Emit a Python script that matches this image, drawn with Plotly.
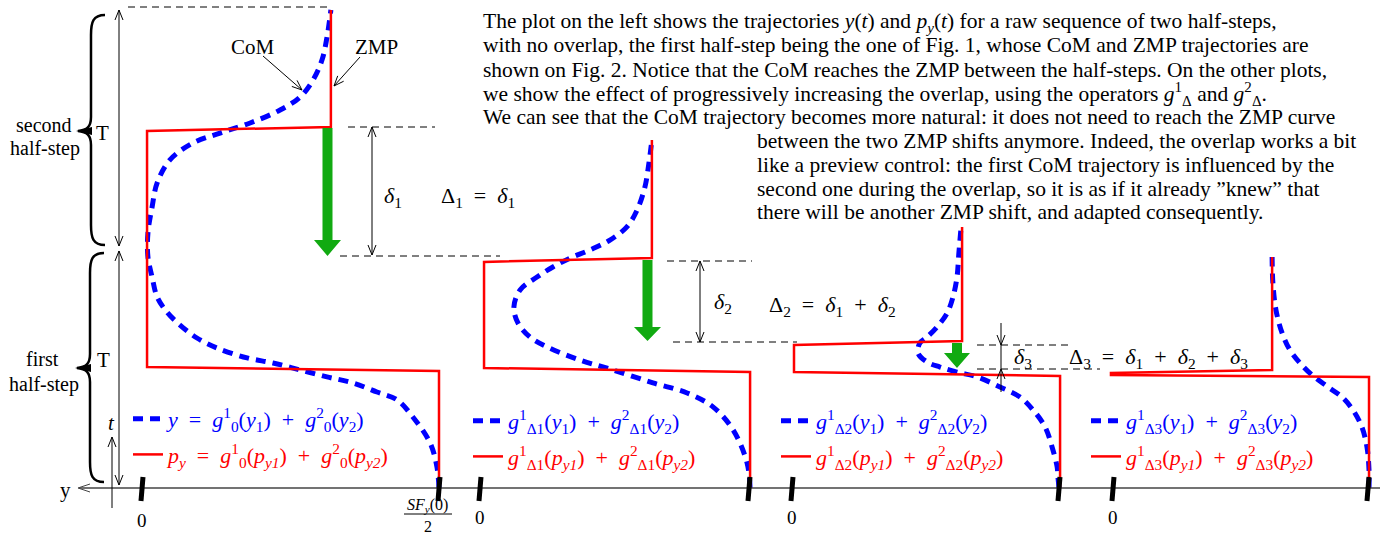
import plotly.graph_objects as go

W, H = 1395, 538
SERIF = "Liberation Serif, Times New Roman, serif"
BLUE = "#0000ff"
RED = "#ff0000"
GREEN = "#11aa11"
SP = "\u2002"  # wider space around math operators

# u: horizontal position (0 = left tick, 1 = SF_y(0)/2 tick), t: time in units of T
# panel 1: raw sequence, no overlap
zmp1_u = [1.0, 1.0, 0.017, 0.017, 0.636, 0.636]
zmp1_t = [0.0, 0.488, 0.504, 1.488, 1.504, 1.992]
com1_u = [1.0, 0.993, 0.970, 0.912, 0.859, 0.791, 0.710, 0.623, 0.532, 0.441, 0.354, 0.253, 0.185, 0.128,
          0.084, 0.051, 0.034, 0.020, 0.020, 0.034, 0.051, 0.094, 0.172, 0.263, 0.364, 0.465, 0.532, 0.576,
          0.606, 0.623, 0.636]
com1_t = [0.0, 0.088, 0.188, 0.296, 0.367, 0.400, 0.438, 0.463, 0.492, 0.521, 0.542, 0.583, 0.625, 0.679,
          0.733, 0.796, 0.879, 0.963, 1.063, 1.171, 1.271, 1.367, 1.438, 1.479, 1.521, 1.575, 1.629, 1.700,
          1.783, 1.879, 1.992]

# panel 2: overlap Delta_1
zmp2_u = [1.004, 1.004, 0.015, 0.015, 0.639, 0.639]
zmp2_t = [0.0, 0.483, 0.500, 0.942, 0.958, 1.450]
com2_u = [1.004, 0.993, 0.941, 0.866, 0.770, 0.643, 0.494, 0.372, 0.249, 0.186, 0.141, 0.126, 0.149, 0.212,
          0.271, 0.335, 0.409, 0.483, 0.546, 0.584, 0.613, 0.628, 0.639]
com2_t = [0.0, 0.104, 0.242, 0.338, 0.396, 0.438, 0.492, 0.533, 0.588, 0.629, 0.688, 0.754, 0.825, 0.879,
          0.921, 0.958, 0.992, 1.033, 1.088, 1.158, 1.254, 1.354, 1.450]

# panel 3: overlap Delta_2
zmp3_u = [1.004, 1.004, 0.0075, 0.0075, 0.637, 0.637]
zmp3_t = [0.0, 0.467, 0.483, 0.596, 0.6125, 1.0875]
com3_u = [1.0, 0.996, 0.993, 0.974, 0.948, 0.903, 0.854, 0.779, 0.693, 0.618, 0.554, 0.506, 0.472, 0.479,
          0.506, 0.543, 0.581, 0.603, 0.618, 0.625, 0.633]
com3_t = [0.0, 0.046, 0.088, 0.171, 0.254, 0.325, 0.379, 0.421, 0.463, 0.483, 0.504, 0.525, 0.5625, 0.604,
          0.629, 0.671, 0.729, 0.796, 0.879, 0.979, 1.083]

# panel 4: overlap Delta_3
zmp4_u = [1.004, 1.004, -0.008, -0.008, 0.624, 0.624]
zmp4_t = [0.0, 0.4625, 0.471, 0.479, 0.492, 0.9625]
com4_u = [1.004, 1.004, 0.996, 0.976, 0.941, 0.898, 0.843, 0.780, 0.733, 0.694, 0.663, 0.639, 0.627, 0.624]
com4_t = [0.0, 0.075, 0.171, 0.254, 0.325, 0.379, 0.421, 0.471, 0.521, 0.575, 0.646, 0.742, 0.854, 0.9625]

com_labels = [
    f"<i>y</i>{SP}={SP}<i>g</i><sup>1</sup><sub>0</sub>(<i>y</i><sub>1</sub>){SP}+{SP}<i>g</i><sup>2</sup><sub>0</sub>(<i>y</i><sub>2</sub>)",
    f"<i>g</i><sup>1</sup><sub>Δ1</sub>(<i>y</i><sub>1</sub>){SP}+{SP}<i>g</i><sup>2</sup><sub>Δ1</sub>(<i>y</i><sub>2</sub>)",
    f"<i>g</i><sup>1</sup><sub>Δ2</sub>(<i>y</i><sub>1</sub>){SP}+{SP}<i>g</i><sup>2</sup><sub>Δ2</sub>(<i>y</i><sub>2</sub>)",
    f"<i>g</i><sup>1</sup><sub>Δ3</sub>(<i>y</i><sub>1</sub>){SP}+{SP}<i>g</i><sup>2</sup><sub>Δ3</sub>(<i>y</i><sub>2</sub>)",
]
zmp_labels = [
    f"<i>p<sub>y</sub></i>{SP}={SP}<i>g</i><sup>1</sup><sub>0</sub>(<i>p<sub>y1</sub></i>){SP}+{SP}<i>g</i><sup>2</sup><sub>0</sub>(<i>p<sub>y2</sub></i>)",
    f"<i>g</i><sup>1</sup><sub>Δ1</sub>(<i>p<sub>y1</sub></i>){SP}+{SP}<i>g</i><sup>2</sup><sub>Δ1</sub>(<i>p<sub>y2</sub></i>)",
    f"<i>g</i><sup>1</sup><sub>Δ2</sub>(<i>p<sub>y1</sub></i>){SP}+{SP}<i>g</i><sup>2</sup><sub>Δ2</sub>(<i>p<sub>y2</sub></i>)",
    f"<i>g</i><sup>1</sup><sub>Δ3</sub>(<i>p<sub>y1</sub></i>){SP}+{SP}<i>g</i><sup>2</sup><sub>Δ3</sub>(<i>p<sub>y2</sub></i>)",
]

para1 = [
    "The plot on the left shows the trajectories <i>y</i>(<i>t</i>) and <i>p<sub>y</sub></i>(<i>t</i>) for a raw sequence of two half-steps,",
    "with no overlap, the first half-step being the one of Fig. 1, whose CoM and ZMP trajectories are",
    "shown on Fig. 2. Notice that the CoM reaches the ZMP between the half-steps. On the other plots,",
    "we show the effect of progressively increasing the overlap, using the operators <i>g</i><sup>1</sup><sub>Δ</sub> and <i>g</i><sup>2</sup><sub>Δ</sub>.",
    "We can see that the CoM trajectory becomes more natural: it does not need to reach the ZMP curve",
]
para2 = [
    "between the two ZMP shifts anymore. Indeed, the overlap works a bit",
    "like a preview control: the first CoM trajectory is influenced by the",
    "second one during the overlap, so it is as if it already ”knew” that",
    "there will be another ZMP shift, and adapted consequently.",
]

panels = [
    (zmp1_u, zmp1_t, com1_u, com1_t),
    (zmp2_u, zmp2_t, com2_u, com2_t),
    (zmp3_u, zmp3_t, com3_u, com3_t),
    (zmp4_u, zmp4_t, com4_u, com4_t),
]
# pixel position of the "0" tick and of the right tick for each panel
tick_px = [(142, 439), (480, 749), (792, 1059), (1113, 1368)]
legend_px = [(128, 398), (468, 400), (776, 400), (1086, 400)]


def X(px):
    return px / W


def Y(py):
    return 1 - py / H


def P(x, y):
    return f"{X(x):.5f},{Y(y):.5f}"


fig = go.Figure()
shapes = []
annotations = []

for i, (zu, zt, cu, ct) in enumerate(panels):
    ax = "x" if i == 0 else f"x{i + 1}"
    lg = "legend" if i == 0 else f"legend{i + 1}"
    fig.add_trace(go.Scatter(x=cu, y=ct, xaxis=ax, yaxis="y", mode="lines", line_shape="spline",
                             line=dict(color=BLUE, width=5, dash="10px,7px"),
                             name=f"<span style='color:{BLUE}'>{com_labels[i]}</span>",
                             legend=lg, legendgroup=f"c{i}", hoverinfo="skip"))
    fig.add_trace(go.Scatter(x=zu, y=zt, xaxis=ax, yaxis="y", mode="lines",
                             line=dict(color=RED, width=2.5),
                             name=f"<span style='color:{RED}'>{zmp_labels[i]}</span>",
                             legend=lg, legendgroup=f"z{i}", hoverinfo="skip"))

layout_axes = {}
for i, (a, b) in enumerate(tick_px):
    key = "xaxis" if i == 0 else f"xaxis{i + 1}"
    d = dict(range=[-a / (b - a), (W - a) / (b - a)], domain=[0, 1], visible=False, anchor="y",
             fixedrange=True)
    if i > 0:
        d["overlaying"] = "x"
    layout_axes[key] = d
    lgkey = "legend" if i == 0 else f"legend{i + 1}"
    lx, ly = legend_px[i]
    layout_axes[lgkey] = dict(x=X(lx), y=Y(ly), xanchor="left", yanchor="top", bgcolor="rgba(0,0,0,0)",
                              font=dict(family=SERIF, size=22), itemwidth=30, tracegroupgap=4,
                              itemclick=False, itemdoubleclick=False)


def line(x0, y0, x1, y1, color="black", width=1, dash=None):
    shapes.append(dict(type="line", xref="paper", yref="paper", x0=X(x0), y0=Y(y0), x1=X(x1), y1=Y(y1),
                       line=dict(color=color, width=width, dash=dash)))


def vhead(tx, ty, dx, dy, length=10, hw=4, width=1, color="black"):
    n = (dx * dx + dy * dy) ** 0.5
    dx, dy = dx / n, dy / n
    bx, by = tx - length * dx, ty - length * dy
    px_, py_ = -dy, dx
    path = f"M {P(bx + hw * px_, by + hw * py_)} L {P(tx, ty)} L {P(bx - hw * px_, by - hw * py_)}"
    shapes.append(dict(type="path", xref="paper", yref="paper", path=path,
                       line=dict(color=color, width=width)))


def arrow(x0, y0, x1, y1, both=False, width=1, color="black"):
    line(x0, y0, x1, y1, color=color, width=width)
    vhead(x1, y1, x1 - x0, y1 - y0, width=width, color=color)
    if both:
        vhead(x0, y0, x0 - x1, y0 - y1, width=width, color=color)


def text(x, y, s, size=20, color="black", anchor="center"):
    annotations.append(dict(x=X(x), y=Y(y), xref="paper", yref="paper", text=s, showarrow=False,
                            font=dict(family=SERIF, size=size, color=color), xanchor=anchor,
                            yanchor="middle"))


def green_arrow(cx, top, hb, tip, sw=5, hw=13.5):
    path = (f"M {P(cx - sw, top)} L {P(cx + sw, top)} L {P(cx + sw, hb)} L {P(cx + hw, hb)} "
            f"L {P(cx, tip)} L {P(cx - hw, hb)} L {P(cx - sw, hb)} Z")
    shapes.append(dict(type="path", xref="paper", yref="paper", path=path, fillcolor=GREEN,
                       line=dict(width=0), layer="above"))


def brace(xe, ytop, ybot, xm, ymid):
    xs = xe - 14
    path = (f"M {P(xe, ytop)} C {P(xs + 2, ytop)} {P(xs, ytop + 7)} {P(xs, ytop + 20)} "
            f"L {P(xs, ymid - 14)} C {P(xs, ymid - 4)} {P(xs - 4, ymid - 1)} {P(xm, ymid)} "
            f"C {P(xs - 4, ymid + 1)} {P(xs, ymid + 4)} {P(xs, ymid + 14)} "
            f"L {P(xs, ybot - 20)} C {P(xs, ybot - 7)} {P(xs + 2, ybot)} {P(xe, ybot)}")
    shapes.append(dict(type="path", xref="paper", yref="paper", path=path,
                       line=dict(color="black", width=2.5)))
    tri = f"M {P(xm - 2, ymid)} L {P(xs + 1, ymid - 4)} L {P(xs + 1, ymid + 4)} Z"
    shapes.append(dict(type="path", xref="paper", yref="paper", path=tri, fillcolor="black",
                       line=dict(width=0)))


# baseline (y axis of the drawing, pointing left) and time axis
line(80, 488, 1380, 488, color="#444444", width=1.3)
vhead(78, 488, -1, 0, length=12, hw=4, color="#444444")
text(65, 490, "y", size=21)
arrow(112, 508, 112, 437)
text(111, 423, "<i>t</i>", size=21)

# thick ticks
for a, b in tick_px:
    line(a + 1, 477, a - 1, 501, width=5)
    line(b + 1, 477, b - 1, 501, width=5)
text(142, 520, "0", size=19)
for a, _ in tick_px[1:]:
    text(a, 517, "0", size=19)
text(428, 505, "<i>SF<sub>y</sub></i>(0)", size=16)
line(404, 514, 452, 514, width=1)
text(428, 526, "2", size=16)

# half-step braces and T arrows
brace(105, 15, 245, 78, 131)
brace(104, 253, 482, 77, 368)
text(44, 125, "second", size=20)
text(45, 148, "half-step", size=20)
text(42, 359, "first", size=20)
text(44, 384, "half-step", size=20)
text(102, 133, "T", size=21)
text(103, 360, "T", size=21)
arrow(119, 246, 119, 10, both=True)
arrow(119, 485, 119, 251, both=True)
line(128, 7, 332, 7, dash="7px,5px")

# CoM / ZMP labels
text(253, 47, "CoM", size=21)
text(377, 47, "ZMP", size=21)
arrow(263, 56, 302, 90)
arrow(360, 57, 334, 86)

# delta_1
green_arrow(327.5, 128, 240, 256)
line(348, 127, 435, 127, dash="7px,5px")
line(340, 256, 500, 256, dash="7px,5px")
arrow(372, 192, 372, 127)
arrow(372, 192, 372, 255)
text(393, 197, "<i>δ</i><sub>1</sub>", size=22)
text(478, 197, f"Δ<sub>1</sub>{SP}={SP}<i>δ</i><sub>1</sub>", size=22)

# delta_2
green_arrow(647.5, 260, 327, 341)
line(667, 261, 752, 261, dash="7px,5px")
line(673, 342, 797, 342, dash="7px,5px")
arrow(700, 300, 700, 261)
arrow(700, 300, 700, 342)
text(723, 303, "<i>δ</i><sub>2</sub>", size=22)
text(832, 306, f"Δ<sub>2</sub>{SP}={SP}<i>δ</i><sub>1</sub>{SP}+{SP}<i>δ</i><sub>2</sub>", size=22)

# delta_3
green_arrow(957, 343, 353, 368, sw=5, hw=13)
line(977, 345, 1068, 345, dash="7px,5px")
line(977, 369, 1100, 369, dash="7px,5px")
line(1001, 323, 1001, 392)
vhead(1001, 345, 0, 1)
vhead(1001, 369, 0, -1)
text(1023, 358, "<i>δ</i><sub>3</sub>", size=22)
text(1158, 358, f"Δ<sub>3</sub>{SP}={SP}<i>δ</i><sub>1</sub>{SP}+{SP}<i>δ</i><sub>2</sub>{SP}+{SP}<i>δ</i><sub>3</sub>",
     size=22)

# explanatory text
ys1 = [22, 45.5, 69.5, 94, 117.5]
for s, yy in zip(para1, ys1):
    text(481, yy, s, size=21.5, anchor="left")
ys2 = [141, 165, 188.5, 212]
for s, yy in zip(para2, ys2):
    text(755, yy, s, size=21.5, anchor="left")

fig.update_layout(
    width=W, height=H, margin=dict(l=0, r=0, t=0, b=0),
    paper_bgcolor="white", plot_bgcolor="white",
    yaxis=dict(range=[-50 / 240, 488 / 240], domain=[0, 1], visible=False, fixedrange=True),
    shapes=shapes, annotations=annotations, showlegend=True,
    **layout_axes,
)

fig.write_html("out.html", config={"displayModeBar": False},
               post_script="document.body.style.margin = '0px';")
